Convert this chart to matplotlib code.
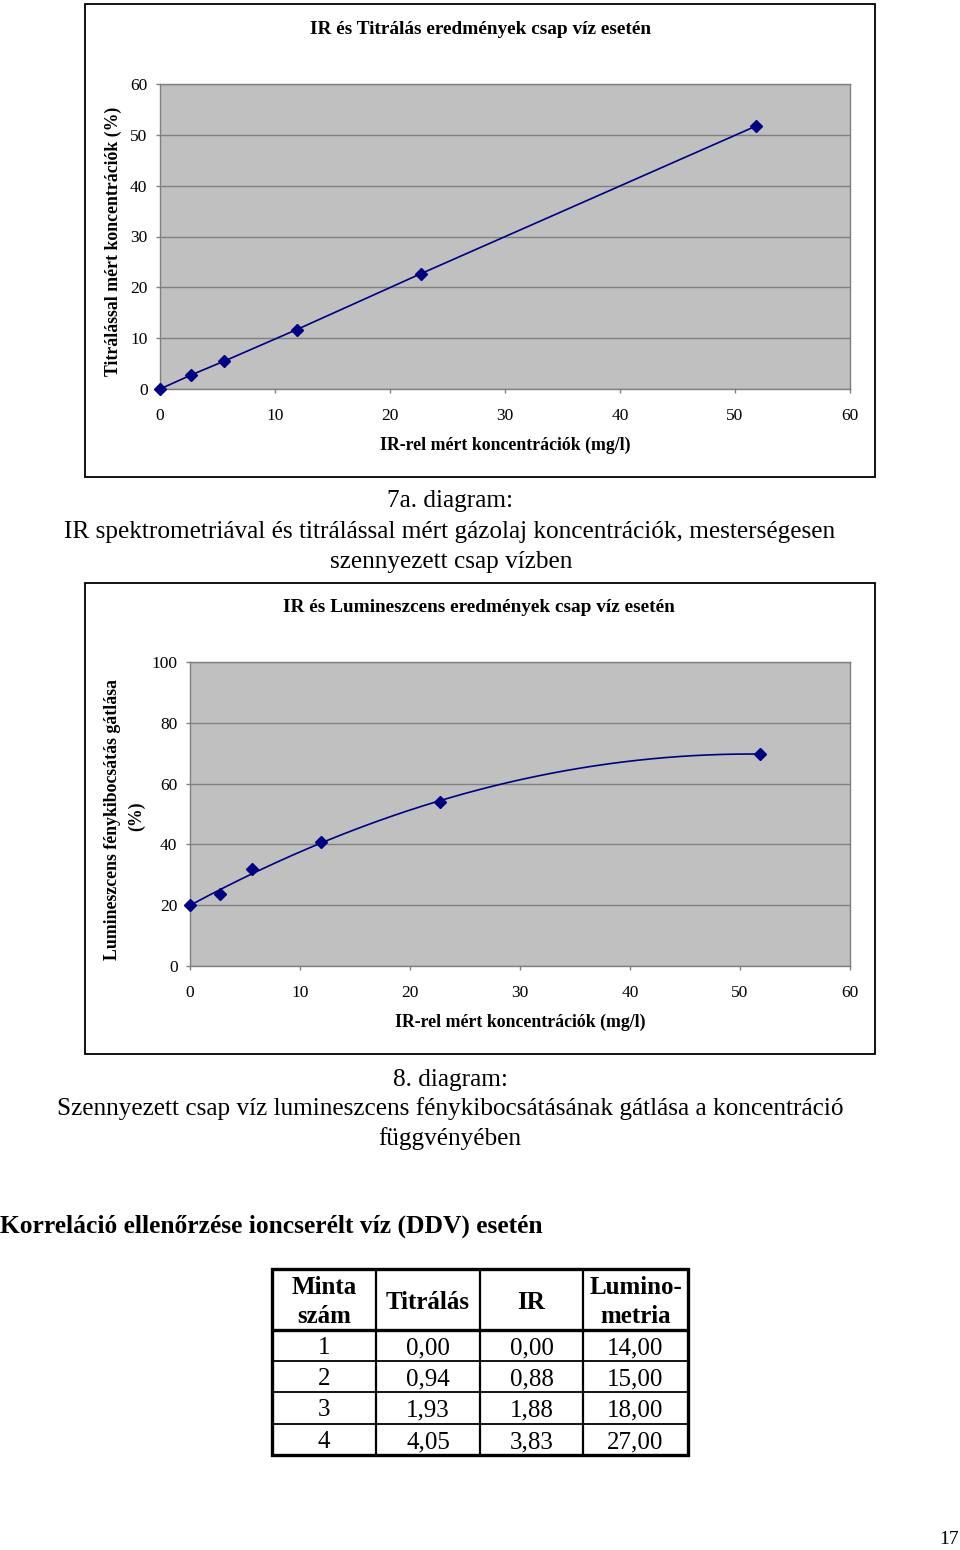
import numpy as np
import matplotlib
matplotlib.use("Agg")
import matplotlib.pyplot as plt
from matplotlib.patches import Rectangle

plt.rcParams['font.family'] = ['Liberation Serif', 'DejaVu Serif']

# ---------------- data ----------------
ir_conc = [0.0, 2.7, 5.6, 11.9, 22.7, 51.8]
titr_conc = [0.0, 2.75, 5.5, 11.7, 22.7, 51.7]
lumi_inhib = [20.0, 23.6, 31.8, 40.8, 53.8, 69.8]

x_ticks = [0, 10, 20, 30, 40, 50, 60]
y1_ticks = [0, 10, 20, 30, 40, 50, 60]
y2_ticks = [0, 20, 40, 60, 80, 100]

tbl_header = [["Minta", "szám"], ["Titrálás"], ["IR"], ["Lumino-", "metria"]]
tbl_minta = ["1", "2", "3", "4"]
tbl_titralas = [0.00, 0.94, 1.93, 4.05]
tbl_ir = [0.00, 0.88, 1.88, 3.83]
tbl_lumino = [14.00, 15.00, 18.00, 27.00]

W, H = 960, 1550
NAVY = '#000080'
GRAY = '#808080'
PLOTBG = '#C0C0C0'

fig = plt.figure(figsize=(W / 100, H / 100), dpi=100)
bg = fig.add_axes([0, 0, 1, 1])
bg.set_xlim(0, W)
bg.set_ylim(H, 0)
bg.axis('off')
bg.set_zorder(0)


def axrect(l, t, r, b):
    return [l / W, 1 - b / H, (r - l) / W, (b - t) / H]


def style_axes(ax, xt, yt, ylim):
    ax.set_facecolor(PLOTBG)
    ax.set_xlim(0, 60)
    ax.set_ylim(*ylim)
    ax.set_xticks(xt)
    ax.set_yticks(yt)
    ax.tick_params(axis='both', direction='out', length=3, width=1,
                   color=GRAY, labelsize=12.5, pad=6)
    ax.tick_params(axis='x', pad=10.5)
    ax.grid(axis='y', color=GRAY, lw=1)
    ax.set_axisbelow(True)
    for s in ax.spines.values():
        s.set_color(GRAY)
        s.set_linewidth(1)


def markers(ax, x, y):
    ax.plot(x, y, ls='none', marker='D', ms=6, color=NAVY, zorder=4,
            clip_on=False)


# ---------------- chart 1 ----------------
bg.add_patch(Rectangle((85, 4), 790, 473, fill=False, ec='black', lw=1.3))
ax1 = fig.add_axes(axrect(160, 84, 850, 389))
ax1.set_zorder(2)
style_axes(ax1, x_ticks, y1_ticks, (0, 60))
ax1.plot(ir_conc, titr_conc, color=NAVY, lw=1.2, zorder=3, clip_on=False)
markers(ax1, ir_conc, titr_conc)
bg.text(481, 30, "IR és Titrálás eredmények csap víz esetén", ha='center',
        va='center', fontsize=13.9, fontweight='bold')
bg.text(505, 445, "IR-rel mért koncentrációk (mg/l)", ha='center',
        va='center', fontsize=12.8, fontweight='bold')
bg.text(113, 241, "Titrálással mért koncentrációk (%)", ha='center',
        va='center', rotation=90, fontsize=12.8, fontweight='bold')

bg.text(450, 501, "7a. diagram:", ha='center', va='center', fontsize=18.2)
bg.text(450, 532, "IR spektrometriával és titrálással mért gázolaj koncentrációk, mesterségesen",
        ha='center', va='center', fontsize=18.2)
bg.text(451, 562, "szennyezett csap vízben", ha='center', va='center', fontsize=18.2)

# ---------------- chart 2 ----------------
bg.add_patch(Rectangle((85, 583), 790, 471, fill=False, ec='black', lw=1.3))
ax2 = fig.add_axes(axrect(190, 662, 850, 966))
ax2.set_zorder(2)
style_axes(ax2, x_ticks, y2_ticks, (0, 100))
# quadratic trendline fitted to the series
coef = np.polyfit(ir_conc, lumi_inhib, 2)
xs = np.linspace(min(ir_conc), max(ir_conc), 200)
ax2.plot(xs, np.polyval(coef, xs), color=NAVY, lw=1.2, zorder=3)
markers(ax2, ir_conc, lumi_inhib)
bg.text(479, 608, "IR és Lumineszcens eredmények csap víz esetén", ha='center',
        va='center', fontsize=13.9, fontweight='bold')
bg.text(520, 1022, "IR-rel mért koncentrációk (mg/l)", ha='center',
        va='center', fontsize=12.8, fontweight='bold')
bg.text(113, 819, "Lumineszcens fénykibocsátás gátlása", ha='center',
        va='center', rotation=90, fontsize=12.8, fontweight='bold')
bg.text(137, 816, "(%)", ha='center', va='center', rotation=90,
        fontsize=12.8, fontweight='bold')

bg.text(450, 1080, "8. diagram:", ha='center', va='center', fontsize=18.2)
bg.text(450, 1109, "Szennyezett csap víz lumineszcens fénykibocsátásának gátlása a koncentráció",
        ha='center', va='center', fontsize=18.2)
bg.text(450, 1139, "függvényében", ha='center', va='center', fontsize=18.2)

# ---------------- heading ----------------
bg.text(0, 1226, "Korreláció ellenőrzése ioncserélt víz (DDV) esetén", ha='left',
        va='center', fontsize=18.4, fontweight='bold')

# ---------------- table ----------------
col_x = [272, 376, 480, 583, 688]
row_y = [1269, 1330, 1361, 1392, 1424, 1455]
thick, thin = 2.4, 1.3
for i, yv in enumerate(row_y[1:-1]):
    bg.plot([col_x[0], col_x[-1]], [yv, yv], color='black',
            lw=thick if i == 0 else thin, solid_capstyle='butt')
for xv in col_x[1:-1]:
    bg.plot([xv, xv], [row_y[0], row_y[-1]], color='black', lw=1.6,
            solid_capstyle='butt')
bg.add_patch(Rectangle((col_x[0], row_y[0]), col_x[-1] - col_x[0],
                       row_y[-1] - row_y[0], fill=False, ec='black', lw=thick))

hdr_mid = (row_y[0] + row_y[1]) / 2
for j, lines in enumerate(tbl_header):
    cx = (col_x[j] + col_x[j + 1]) / 2
    if len(lines) == 1:
        bg.text(cx, hdr_mid + 3, lines[0], ha='center', va='center',
                fontsize=18, fontweight='bold')
    else:
        bg.text(cx, hdr_mid - 12, lines[0], ha='center', va='center',
                fontsize=18, fontweight='bold')
        bg.text(cx, hdr_mid + 17, lines[1], ha='center', va='center',
                fontsize=18, fontweight='bold')


def fmt(v):
    return f"{v:.2f}".replace('.', ',')


columns = [tbl_minta, [fmt(v) for v in tbl_titralas],
           [fmt(v) for v in tbl_ir], [fmt(v) for v in tbl_lumino]]
for j, col in enumerate(columns):
    cx = (col_x[j] + col_x[j + 1]) / 2
    for i, val in enumerate(col):
        cy = (row_y[i + 1] + row_y[i + 2]) / 2 + 2.5
        bg.text(cx, cy, val, ha='center', va='center', fontsize=18)

# page number
bg.text(959, 1540, "17", ha='right', va='center', fontsize=14)

fig.savefig("out.png", dpi=100)
